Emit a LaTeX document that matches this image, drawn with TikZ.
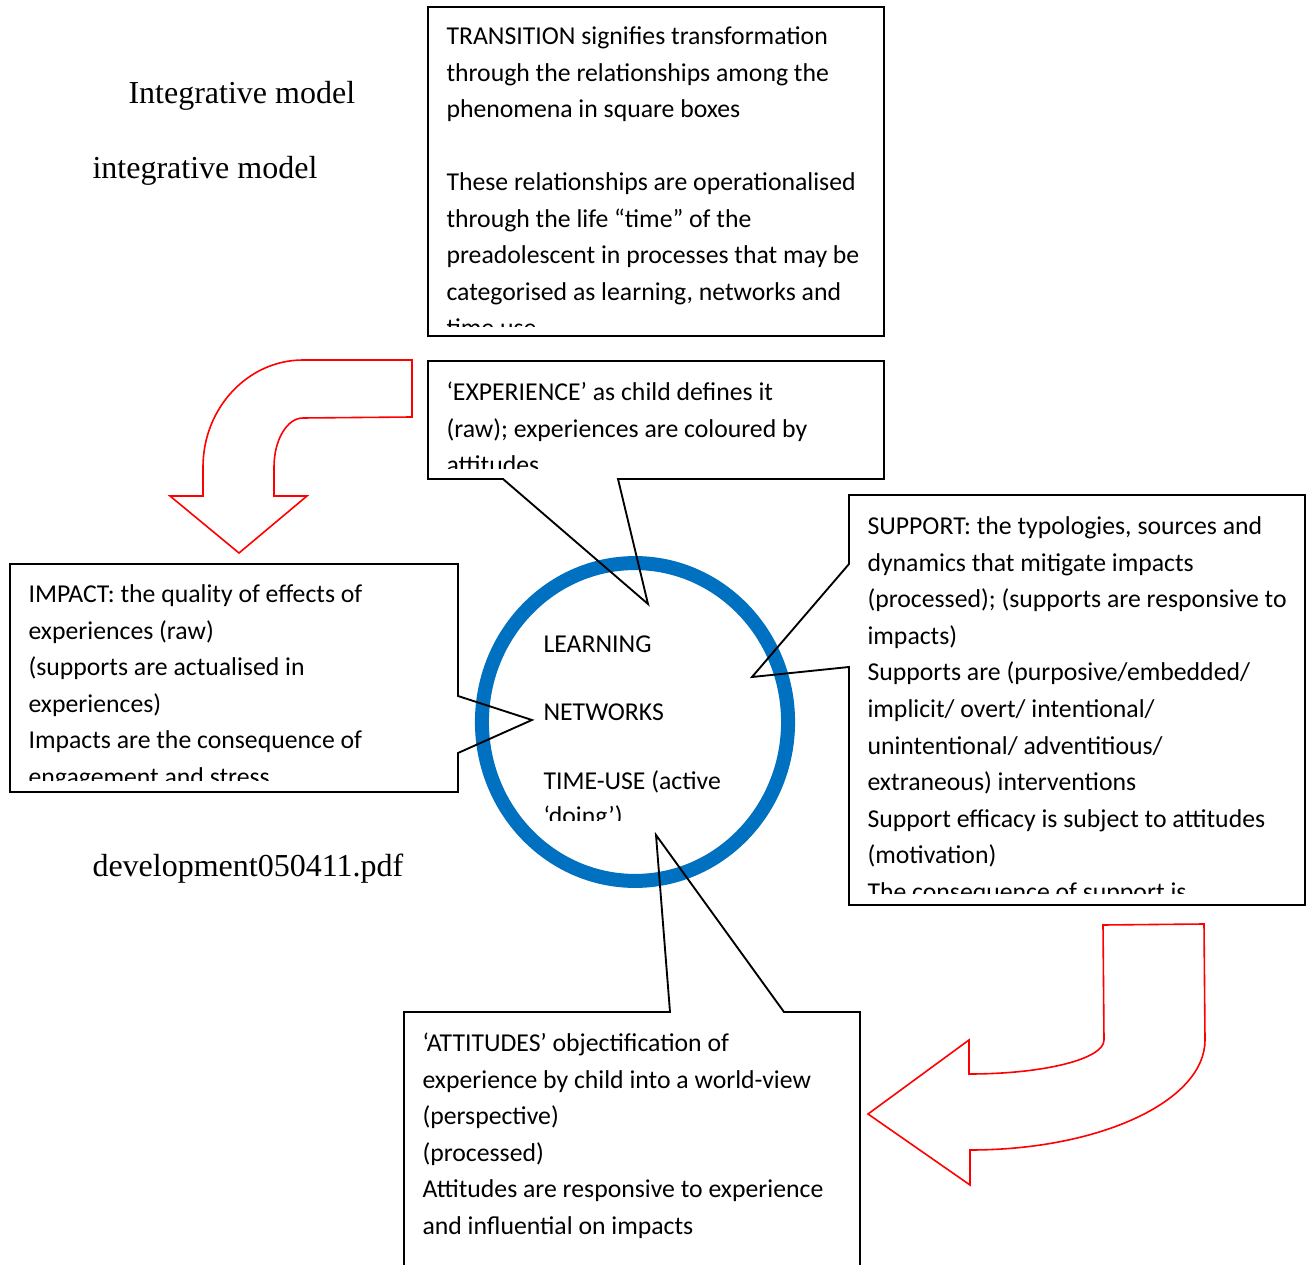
\documentclass[tikz,border=0pt]{standalone}
\usepackage{fontspec}
\setmainfont{Carlito}
\newfontfamily\titlefont{Liberation Serif}
\definecolor{ringblue}{RGB}{0,112,192}
\usetikzlibrary{positioning}

\begin{document}
\begin{tikzpicture}[x=0.375pt,y=-0.375pt,
  boxtext/.style={align=left,inner sep=0pt,anchor=north west,
    font=\fontsize{9.65}{13.7}\selectfont,execute at begin node=\strut},
  ringtext/.style={boxtext,font=\fontsize{9.65}{12.9}\selectfont},
  caption/.style={anchor=base west,inner sep=0pt,font=\titlefont\fontsize{12}{14}\selectfont},
  frame/.style={draw,line width=0.7pt,line join=miter},
  turn/.style={draw=red,line width=0.6pt,line join=miter},
  ring/.style={draw=ringblue,line width=5.25pt}]
\useasboundingbox (0,0) rectangle (1314,1265);

\node[caption] (title1) at (128,104) {Integrative model};
\node[caption] (title2) at (92,179) {integrative model};
\node[caption] (source) at (92,876) {development050411.pdf};

\coordinate (hub) at (635,722);
\draw[ring] (hub) ellipse [x radius=57.4pt, y radius=59.6pt];

\draw[frame] (428,7) rectangle (884,336);
\draw[frame] (428,361) -- (884,361) -- (884,479) -- (618,479) -- (648,604)
  -- (503,479) -- (428,479) -- cycle;
\draw[frame] (10,564) -- (458,564) -- (458,696) -- (532,720) -- (458,753)
  -- (458,792) -- (10,792) -- cycle;
\draw[frame] (849,495) -- (1305,495) -- (1305,905) -- (849,905) -- (849,667)
  -- (752,677) -- (849,564) -- cycle;
\draw[frame] (404,1265) -- (404,1012) -- (670,1012) -- (656,835) -- (784,1012)
  -- (860,1012) -- (860,1265);

\begin{scope}
\clip (430,9) rectangle (882,327);
\node[boxtext] (transition) at (446,26.4) {TRANSITION signifies transformation\\
  through the relationships among the\\phenomena in square boxes\\ \mbox{}\\
  These relationships are operationalised\\through the life “time” of the\\
  preadolescent in processes that may be\\categorised as learning, networks and\\time use};
\end{scope}
\begin{scope}
\clip (430,363) rectangle (882,469);
\node[boxtext] (experience) at (446,381.4) {‘EXPERIENCE’ as child defines it\\
  (raw); experiences are coloured by\\attitudes};
\end{scope}
\begin{scope}
\clip (12,566) rectangle (456,780);
\node[boxtext] (impact) at (28,584.4) {IMPACT: the quality of effects of\\
  experiences (raw)\\(supports are actualised in\\experiences)\\
  Impacts are the consequence of\\engagement and stress};
\end{scope}
\begin{scope}
\clip (851,497) rectangle (1303,893);
\node[boxtext] (support) at (867,516.4) {SUPPORT: the typologies, sources and\\
  dynamics that mitigate impacts\\(processed); (supports are responsive to\\
  impacts)\\Supports are (purposive/embedded/\\implicit/ overt/ intentional/\\
  unintentional/ adventitious/\\extraneous) interventions\\
  Support efficacy is subject to attitudes\\(motivation)\\The consequence of support is};
\end{scope}
\begin{scope}
\clip (530,600) rectangle (790,820);
\node[ringtext] (phases) at (543,634.8) {LEARNING\\ \mbox{}\\NETWORKS\\ \mbox{}\\
  TIME-USE (active\\‘doing’)};
\end{scope}
\node[boxtext] (attitudes) at (422,1032.4) {‘ATTITUDES’ objectification of\\
  experience by child into a world-view\\(perspective)\\(processed)\\
  Attitudes are responsive to experience\\and influential on impacts};

\draw[turn] (412,360) -- (412,417) -- (303,418) .. controls (287,418) and (274,440) .. (274,467)
  -- (274,496) -- (307,496) -- (239,553) -- (170,496) -- (203,496) -- (203,467)
  .. controls (203,408) and (248,360) .. (303,360) -- cycle;
\draw[turn] (1103,925) -- (1204,924) -- (1205,1040) .. controls (1205,1101) and (1100,1150) .. (970,1150)
  -- (970,1185) -- (868,1114) -- (969,1040) -- (969,1074)
  .. controls (1044,1074) and (1104,1059) .. (1104,1040) -- cycle;
\end{tikzpicture}
\end{document}
